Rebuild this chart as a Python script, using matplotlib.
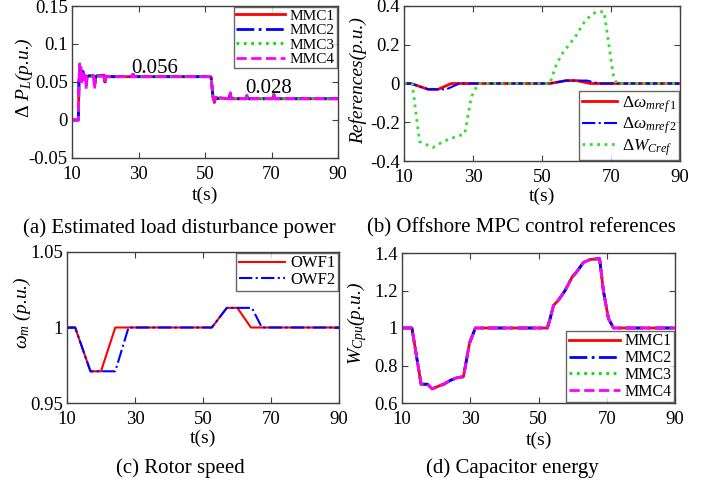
import matplotlib
matplotlib.use('Agg')
import matplotlib.pyplot as plt

plt.rcParams['font.family'] = ['Liberation Serif', 'DejaVu Serif']
plt.rcParams['mathtext.fontset'] = 'custom'
plt.rcParams['mathtext.rm'] = 'Liberation Serif'
plt.rcParams['mathtext.it'] = 'Liberation Serif:italic'
plt.rcParams['mathtext.bf'] = 'Liberation Serif:bold'

# (a) estimated load disturbance power
t_a = [10, 11.9, 12.1, 12.3, 12.5, 12.7, 12.9, 13.1, 13.3, 13.5, 13.7, 13.9, 14.1, 14.3,
       14.5, 15, 16.5, 16.8, 17.1, 17.5, 19.6, 19.9, 20.2, 20.6, 28, 28.3, 28.6, 51.8,
       52.1, 52.4, 52.8, 53.1, 53.4, 53.8, 54.4, 57.3, 57.6, 57.9, 62.3, 62.6, 62.9,
       70.4, 70.7, 71.0, 90]
pl_mmc1 = [0, 0, 0.050, 0.062, 0.055, 0.060, 0.052, 0.058, 0.062, 0.054, 0.059, 0.056,
           0.058, 0.050, 0.057, 0.058, 0.058, 0.046, 0.056, 0.058, 0.059, 0.050, 0.058,
           0.057, 0.057, 0.060, 0.057, 0.057, 0.045, 0.030, 0.023, 0.027, 0.030, 0.028,
           0.029, 0.028, 0.034, 0.028, 0.028, 0.031, 0.028, 0.028, 0.034, 0.028, 0.028]
pl_mmc2 = [0, 0, 0.052, 0.070, 0.056, 0.068, 0.053, 0.060, 0.064, 0.055, 0.058, 0.057,
           0.058, 0.047, 0.057, 0.058, 0.058, 0.044, 0.057, 0.058, 0.058, 0.049, 0.057,
           0.057, 0.057, 0.062, 0.057, 0.057, 0.044, 0.031, 0.026, 0.029, 0.031, 0.028,
           0.029, 0.028, 0.035, 0.028, 0.028, 0.032, 0.028, 0.028, 0.033, 0.028, 0.028]
pl_mmc3 = [0, 0, 0.048, 0.066, 0.052, 0.064, 0.051, 0.057, 0.061, 0.052, 0.058, 0.056,
           0.057, 0.048, 0.056, 0.057, 0.057, 0.045, 0.056, 0.057, 0.058, 0.049, 0.057,
           0.057, 0.057, 0.061, 0.057, 0.057, 0.044, 0.030, 0.025, 0.028, 0.030, 0.028,
           0.029, 0.028, 0.034, 0.028, 0.028, 0.031, 0.028, 0.028, 0.034, 0.028, 0.028]
pl_mmc4 = [0, 0, 0.050, 0.074, 0.054, 0.069, 0.050, 0.059, 0.063, 0.053, 0.059, 0.056,
           0.058, 0.040, 0.057, 0.058, 0.058, 0.041, 0.057, 0.058, 0.058, 0.048, 0.057,
           0.057, 0.057, 0.060, 0.057, 0.057, 0.045, 0.030, 0.025, 0.028, 0.030, 0.028,
           0.029, 0.028, 0.036, 0.028, 0.028, 0.032, 0.028, 0.028, 0.035, 0.028, 0.028]

# (b) offshore MPC control references
t_w1 = [10, 12, 17, 19.9, 23.7, 52.3, 57, 60, 64, 90]
dw_mref1 = [0, 0, -0.03, -0.03, 0, 0, 0.015, 0.015, 0, 0]
t_w2 = [10, 12, 17, 22.3, 26, 52.3, 57, 63, 66.5, 90]
dw_mref2 = [0, 0, -0.03, -0.03, 0, 0, 0.015, 0.015, 0, 0]
t_wc = [10, 12.4, 14.5, 18.4, 21.3, 24.2, 27.6, 29.5, 31.5, 52.3, 54.2, 56.1, 60, 62,
        64, 65.8, 68, 70.6, 71.6, 90]
dw_cref = [0, 0, -0.30, -0.33, -0.30, -0.28, -0.26, -0.07, 0, 0, 0.10, 0.16, 0.25, 0.31,
           0.35, 0.37, 0.37, 0.05, 0, 0]

# (c) rotor speed
t_o1 = [10, 12.4, 16.9, 20, 24.2, 52.6, 57, 60.1, 64.1, 90]
wm_owf1 = [1, 1, 0.971, 0.971, 1, 1, 1.013, 1.013, 1, 1]
t_o2 = [10, 12.4, 16.9, 24.2, 28.1, 52.6, 57, 64.4, 67.3, 90]
wm_owf2 = [1, 1, 0.971, 0.971, 1, 1, 1.013, 1.013, 1, 1]

# (d) capacitor energy
t_d = [10, 12.9, 15.6, 17.5, 18.8, 20.7, 22.2, 24.1, 26.1, 28, 29.8, 31.5, 52.6, 53.4,
       54.4, 55.9, 57.8, 59.8, 61.2, 63.2, 65.1, 67.9, 69, 70.5, 72, 90]
wc_pu = [1, 1, 0.70, 0.70, 0.675, 0.69, 0.70, 0.72, 0.735, 0.74, 0.92, 1, 1, 1.05,
         1.12, 1.15, 1.20, 1.27, 1.30, 1.35, 1.365, 1.37, 1.20, 1.05, 1, 1]

W, H = 709, 484
fig = plt.figure(figsize=(W / 100, H / 100), dpi=100)


def box(l, r, t, b):
    return fig.add_axes([l / W, 1 - b / H, (r - l) / W, (b - t) / H])


def style(ax, ylab, lx, ly, xly):
    ax.tick_params(direction='in', top=True, right=True, labelsize=13.5, length=4,
                   color='#404040')
    ax.tick_params(axis='x', pad=6)
    ax.tick_params(axis='y', pad=3)
    for s in ax.spines.values():
        s.set_color('#404040')
        s.set_linewidth(1.0)
    ax.set_xlim(10, 90)
    ax.set_xticks([10, 30, 50, 70, 90])
    ax.set_xlabel('t(s)', fontsize=14, va='top')
    ax.xaxis.set_label_coords(0.5, xly)
    ax.set_ylabel(ylab, fontsize=14, style='italic')
    ax.yaxis.set_label_coords(lx, ly)


def leg(ax, loc, fs=11, hl=3.2):
    lg = ax.legend(loc=loc, fontsize=fs, handlelength=hl, fancybox=False,
                   borderaxespad=0.05, borderpad=0.15, labelspacing=0.05, handletextpad=0.3)
    lg.get_frame().set_edgecolor('#404040')
    lg.get_frame().set_linewidth(1.0)
    return lg


mmc_styles = [('MMC1', 'red', '-'), ('MMC2', 'blue', '-.'),
              ('MMC3', '#00e000', ':'), ('MMC4', 'magenta', '--')]

ax = box(72, 338, 6, 158)
for (name, c, ls), y in zip(mmc_styles, [pl_mmc1, pl_mmc2, pl_mmc3, pl_mmc4]):
    ax.plot(t_a, y, color=c, ls=ls, lw=2, label=name)
style(ax, r'$\Delta\ P_L$(p.u.)', -0.14, 0.53, -0.19)
ax.set_ylim(-0.05, 0.15)
ax.set_yticks([-0.05, 0, 0.05, 0.1, 0.15])
ax.set_yticklabels(['-0.05', '0', '0.05', '0.1', '0.15'])
ax.text(35, 0.068, '0.056', fontsize=15, ha='center', va='center')
ax.text(69, 0.042, '0.028', fontsize=15, ha='center', va='center')
leg(ax, 'upper right')

ax = box(404, 680, 6, 161)
ax.plot(t_w1, dw_mref1, color='red', lw=2, label=r'$\Delta\omega_{mref\,1}$')
ax.plot(t_w2, dw_mref2, color='blue', ls='-.', lw=1.5, label=r'$\Delta\omega_{mref\,2}$')
ax.plot(t_wc, dw_cref, color='#33dd33', ls=':', lw=2, label=r'$\Delta W_{Cref}$')
style(ax, 'References(p.u.)', -0.135, 0.52, -0.175)
ax.set_ylim(-0.4, 0.4)
ax.set_yticks([-0.4, -0.2, 0, 0.2, 0.4])
ax.set_yticklabels(['-0.4', '-0.2', '0', '0.2', '0.4'])
leg(ax, 'lower right', fs=12.5, hl=2.0)

ax = box(67, 339, 252, 403)
ax.plot(t_o1, wm_owf1, color='red', lw=1.5, label='OWF1')
ax.plot(t_o2, wm_owf2, color='blue', ls='-.', lw=1.5, label='OWF2')
style(ax, r'$\omega_m$ (p.u.)', -0.125, 0.60, -0.18)
ax.set_ylim(0.95, 1.05)
ax.set_yticks([0.95, 1, 1.05])
ax.set_yticklabels(['0.95', '1', '1.05'])
leg(ax, 'upper right', fs=12, hl=2.8)

ax = box(402, 675, 253, 403)
for name, c, ls in mmc_styles:
    ax.plot(t_d, wc_pu, color=c, ls=ls, lw=2, label=name)
style(ax, r'$W_{Cpu}$(p.u.)', -0.12, 0.53, -0.19)
ax.set_ylim(0.6, 1.4)
ax.set_yticks([0.6, 0.8, 1, 1.2, 1.4])
ax.set_yticklabels(['0.6', '0.8', '1', '1.2', '1.4'])
leg(ax, 'lower right', fs=11.5)

fig.text(179 / W, 1 - 228 / H, '(a) Estimated load disturbance power', fontsize=15,
         ha='center', va='center')
fig.text(521 / W, 1 - 228 / H, '(b) Offshore MPC control references', fontsize=15,
         ha='center', va='center')
fig.text(180 / W, 1 - 468 / H, '(c) Rotor speed', fontsize=15, ha='center', va='center')
fig.text(512 / W, 1 - 468 / H, '(d) Capacitor energy', fontsize=15, ha='center', va='center')

fig.savefig('out.png', dpi=100)
